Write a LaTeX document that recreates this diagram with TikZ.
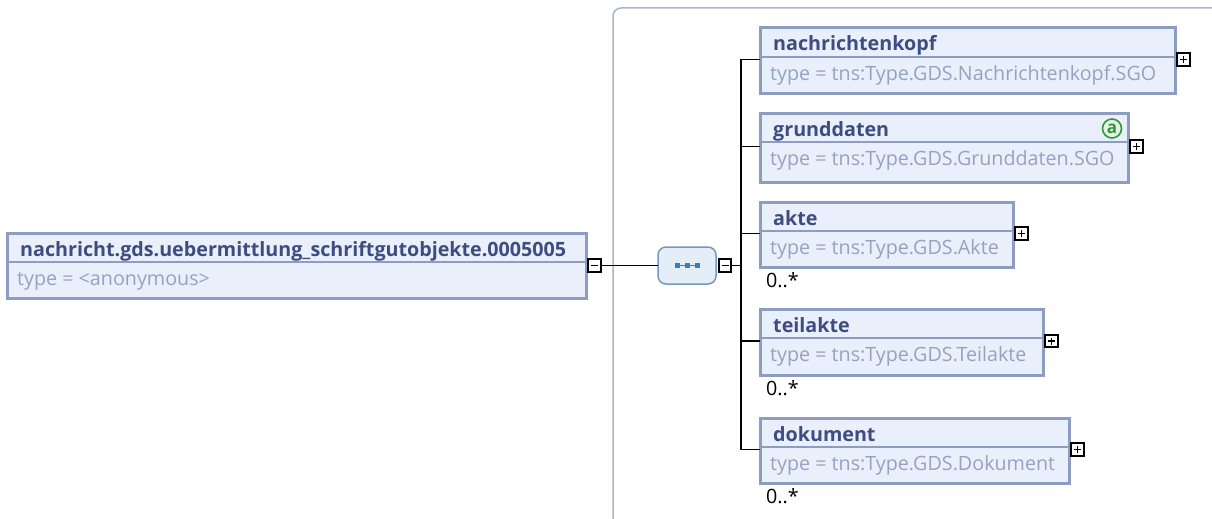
\documentclass[tikz,border=0pt]{standalone}
\usepackage{fontspec}
\setmainfont{Open Sans}
\definecolor{boxborder}{RGB}{140,157,193}
\definecolor{boxfill}{RGB}{233,240,251}
\definecolor{nametxt}{RGB}{62,76,128}
\definecolor{typetxt}{RGB}{150,162,192}
\definecolor{contline}{RGB}{165,180,210}
\definecolor{seqfill}{RGB}{228,238,249}
\definecolor{seqborder}{RGB}{120,150,190}
\definecolor{seqicon}{RGB}{60,125,185}
\definecolor{attrgreen}{RGB}{50,150,60}
\definecolor{attrfill}{RGB}{228,244,228}
\tikzset{
  elbox/.style={draw=boxborder, fill=boxfill, line width=3pt, inner sep=0pt, outer sep=0pt, rectangle},
  divider/.style={draw=boxborder, line width=1.5pt},
  nametext/.style={text=nametxt, font=\fontsize{19.7}{22}\selectfont\bfseries, inner sep=0pt, anchor=base west},
  typetext/.style={text=typetxt, font=\fontsize{19.7}{22}\selectfont, inner sep=0pt, anchor=base west},
  occtext/.style={text=black, font=\fontsize{19.7}{22}\selectfont, inner sep=0pt, anchor=base west},
  pmbox/.style={draw=black, fill=white, line width=2pt, minimum size=12.5pt, inner sep=0pt, outer sep=0pt, rectangle},
  plusbox/.style={pmbox, path picture={
     \draw[line width=1.8pt] ([xshift=-3.5pt]path picture bounding box.center) -- ([xshift=3.5pt]path picture bounding box.center);
     \draw[line width=1.8pt] ([yshift=-3.5pt]path picture bounding box.center) -- ([yshift=3.5pt]path picture bounding box.center);}},
  minusbox/.style={pmbox, path picture={
     \draw[line width=1.8pt] ([xshift=-3.5pt]path picture bounding box.center) -- ([xshift=3.5pt]path picture bounding box.center);}},
  conn/.style={draw=black, line width=1.8pt},
  container/.style={draw=contline, line width=1.5pt, rounded corners=8pt},
  seqnode/.style={draw=seqborder, fill=seqfill, line width=1.5pt, rounded corners=8pt, minimum width=58pt, minimum height=37pt, inner sep=0pt, outer sep=0pt, rectangle},
  seqsq/.style={fill=seqicon, draw=seqicon, line width=0.5pt, minimum size=4pt, inner sep=0pt, rectangle},
  attrcirc/.style={circle, draw=attrgreen, fill=attrfill, line width=1.6pt, minimum size=19pt, inner sep=0pt, text=attrgreen, font=\fontsize{17}{17}\selectfont\bfseries},
}
% #1 id, #2 left, #3 top, #4 right, #5 bottom, #6 title, #7 type
\newcommand{\xsdelem}[7]{%
  \node[elbox, anchor=north west, minimum width={(#4-#2)*1pt}, minimum height={(#5-#3)*1pt}] (#1) at (#2,#3) {};
  \draw[divider] ([xshift=1.5pt,yshift=-29pt]#1.north west) -- ([xshift=-1.5pt,yshift=-29pt]#1.north east);
  \node[nametext] (#1-name) at ([xshift=13pt,yshift=-23pt]#1.north west) {#6};
  \node[typetext] (#1-type) at ([xshift=10pt,yshift=-52pt]#1.north west) {#7};
}
\begin{document}
\begin{tikzpicture}[x=1pt,y=-1pt]
\useasboundingbox[fill=white] (0,0) rectangle (1212,519);
% container of the sequence
\draw[container] (613,560) -- (613,8) -- (1260,8);
% main element
\xsdelem{main}{7}{233}{586}{298}{nachricht.gds.uebermittlung\_schriftgutobjekte.0005005}{type = <anonymous>}
\node[minusbox] (mainpm) at (594.5,265.5) {};
% sequence compositor
\node[seqnode] (seq) at (687,265.5) {};
\node[seqsq] (sq1) at (677,265.5) {};
\node[seqsq] (sq2) at (687,265.5) {};
\node[seqsq] (sq3) at (697,265.5) {};
\draw[seqicon, line width=0.8pt] (sq1) -- (sq2) (sq2) -- (sq3);
\node[minusbox] (seqpm) at (725,265.5) {};
\draw[conn] (mainpm.east) -- (seq.west);
\coordinate (trunk) at (741,265.5);
\draw[conn] (seqpm.east) -- (trunk);
% children
\xsdelem{nk}{760}{28}{1175}{93}{nachrichtenkopf}{type = tns:Type.GDS.Nachrichtenkopf.SGO}
\xsdelem{gd}{760}{113}{1128}{182}{grunddaten}{type = tns:Type.GDS.Grunddaten.SGO}
\xsdelem{ak}{760}{202}{1013}{267}{akte}{type = tns:Type.GDS.Akte}
\xsdelem{ta}{760}{309}{1043}{375}{teilakte}{type = tns:Type.GDS.Teilakte}
\xsdelem{dk}{760}{418}{1069}{483}{dokument}{type = tns:Type.GDS.Dokument}
\node[attrcirc] (gdattr) at (1112,128.5) {a};
\foreach \c in {nk,gd,ak,ta,dk}{
  \coordinate (\c-in) at ([yshift=1pt]\c.west);
  \node[plusbox] (\c-pm) at ([xshift=8.5pt,yshift=1pt]\c.east) {};
  \draw[conn] (trunk |- \c-in) -- (\c-in);
}
\draw[conn] (trunk |- nk-in) -- (trunk |- dk-in);
% occurrences
\node[occtext] (ak-occ) at ([xshift=6pt,yshift=-20pt]ak.south west) {0..*};
\node[occtext] (ta-occ) at ([xshift=6pt,yshift=-20pt]ta.south west) {0..*};
\node[occtext] (dk-occ) at ([xshift=6pt,yshift=-20pt]dk.south west) {0..*};
\end{tikzpicture}
\end{document}
